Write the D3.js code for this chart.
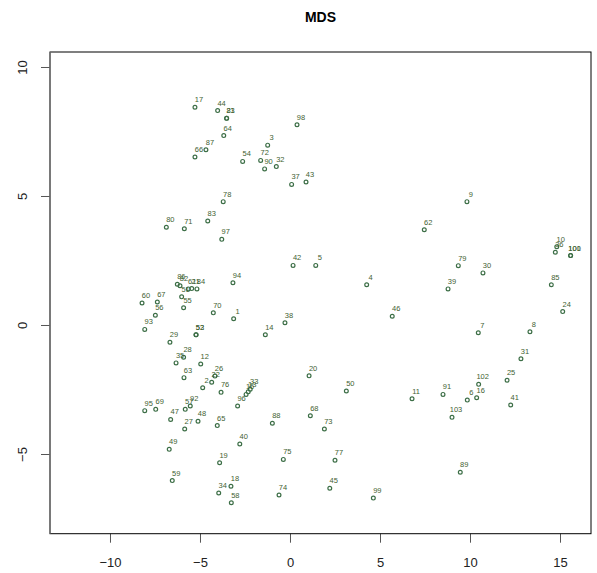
<!DOCTYPE html>
<html>
<head>
<meta charset="utf-8">
<script src="https://cdn.jsdelivr.net/npm/d3@7"></script>
<style>
  html, body { margin: 0; padding: 0; background: #fff; }
  svg { display: block; font-family: "Liberation Sans", Arial, sans-serif; }
</style>
</head>
<body>
<div id="chart"></div>
<script>
// MDS 坐标
const ids = [
  1, 2, 3, 4, 5, 6, 7, 8, 9, 10, 11, 12, 13, 14, 15, 16, 17, 18, 19, 20,
  21, 22, 23, 24, 25, 26, 27, 28, 29, 30, 31, 32, 33, 34, 35, 36, 37, 38, 39, 40,
  41, 42, 43, 44, 45, 46, 47, 48, 49, 50, 51, 52, 53, 54, 55, 56, 57, 58, 59, 60,
  61, 62, 63, 64, 65, 66, 67, 68, 69, 70, 71, 72, 73, 74, 75, 76, 77, 78, 79, 80,
  81, 82, 83, 84, 85, 86, 87, 88, 89, 90, 91, 92, 93, 94, 95, 96, 97, 98, 99, 100,
  101, 102, 103
];
const xs = [
  -3.13, -4.85, -1.24, 4.26, 1.43, 9.85, 10.46, 13.33, 9.83, 14.82, 6.78, -4.96, -2.32, -1.37, -2.44, 10.37, -5.28, -3.28, -3.91, 1.06,
  -5.46, -4.35, -3.52, 15.15, 12.06, -4.17, -5.85, -5.91, -6.67, 10.72, 12.83, -0.76, -2.21, -3.96, -6.33, 14.74, 0.09, -0.28, 8.78, -2.79,
  12.26, 0.17, 0.89, -4.02, 2.21, 5.68, -6.63, -5.11, -6.71, 3.13, -6.02, -5.22, -5.22, -2.63, -5.91, -7.48, -5.82, -3.26, -6.54, -8.22,
  -5.65, 7.46, -5.89, -3.68, -4.04, -5.28, -7.37, 1.13, -7.46, -4.26, -5.87, -1.63, 1.91, -0.61, -0.37, -3.83, 2.50, -3.71, 9.35, -6.87,
  -3.52, -6.11, -4.57, -5.17, 14.52, -6.26, -4.67, -0.98, 9.46, -1.41, 8.50, -5.54, -8.07, -3.17, -8.07, -2.91, -3.79, 0.39, 4.63, 15.59,
  15.59, 10.48, 9.00
];
const ys = [
  0.24, -2.43, 6.97, 1.56, 2.31, -2.91, -0.30, -0.26, 4.78, 3.03, -2.86, -1.51, -2.59, -0.38, -2.69, -2.82, 8.44, -6.25, -5.34, -1.97,
  1.41, -2.22, 8.01, 0.52, -2.14, -1.98, -4.03, -1.25, -0.67, 2.02, -1.31, 6.14, -2.49, -6.51, -1.47, 2.82, 5.45, 0.09, 1.40, -4.61,
  -3.10, 2.31, 5.54, 8.31, -6.33, 0.34, -3.66, -3.73, -4.82, -2.56, 1.09, -0.38, -0.38, 6.34, 0.67, 0.38, -3.27, -6.89, -6.03, 0.85,
  1.40, 3.69, -2.04, 7.34, -3.90, 6.51, 0.89, -3.52, -3.27, 0.47, 3.73, 6.38, -4.03, -6.59, -5.21, -2.61, -5.24, 4.78, 2.30, 3.79,
  8.01, 1.52, 4.03, 1.40, 1.56, 1.58, 6.79, -3.81, -5.71, 6.05, -2.69, -3.14, -0.17, 1.64, -3.32, -3.14, 3.32, 7.76, -6.71, 2.69,
  2.69, -2.30, -3.58
];
const xTicks = [-10, -5, 0, 5, 10, 15];
const yTicks = [-5, 0, 5, 10];

const W = 597, H = 573;
const m = { left: 50, right: 591, top: 52, bottom: 533.7 };
const pointColor = '#3c6e46';
const labelColor = '#3f6232';

const svg = d3.select('#chart').append('svg').attr('width', W).attr('height', H);

const x = d3.scaleLinear().domain([-13.333, 16.722]).range([m.left, m.right]);
const y = d3.scaleLinear().domain([-8.089, 10.581]).range([m.bottom, m.top]);

// 标题
svg.append('text').attr('x', (m.left + m.right) / 2).attr('y', 22)
  .attr('text-anchor', 'middle').attr('font-size', 14).attr('font-weight', 'bold')
  .attr('fill', '#000').text('MDS');

// x 轴
const xAxis = svg.append('g').attr('transform', `translate(0,${m.bottom})`)
  .call(d3.axisBottom(x).tickValues(xTicks).tickSize(9).tickPadding(15).tickFormat(d3.format('d')));
xAxis.select('.domain').remove();
xAxis.selectAll('line').attr('stroke', '#555');
xAxis.selectAll('text').attr('font-size', 13).attr('fill', '#222')
  .attr('font-family', '"Liberation Sans", Arial, sans-serif');

// y 轴（标签旋转）
const yAxis = svg.append('g').attr('transform', `translate(${m.left},0)`)
  .call(d3.axisLeft(y).tickValues(yTicks).tickSize(9).tickFormat(d3.format('d')));
yAxis.select('.domain').remove();
yAxis.selectAll('line').attr('stroke', '#555');
yAxis.selectAll('text').attr('font-size', 13).attr('fill', '#222')
  .attr('font-family', '"Liberation Sans", Arial, sans-serif')
  .attr('x', null).attr('dy', null)
  .attr('text-anchor', 'middle')
  .attr('transform', 'translate(-28,0) rotate(-90)')
  .attr('dominant-baseline', 'central');

// 边框
svg.append('rect').attr('x', m.left).attr('y', m.top)
  .attr('width', m.right - m.left).attr('height', m.bottom - m.top)
  .attr('fill', 'none').attr('stroke', '#000').attr('stroke-width', 1);
svg.append('line').attr('x1', m.left).attr('x2', m.left).attr('y1', m.top).attr('y2', m.bottom)
  .attr('stroke', '#777').attr('stroke-width', 1.5);

const pts = ids.map((id, i) => ({ id, x: xs[i], y: ys[i] }));

svg.selectAll('circle.pt').data(pts).enter().append('circle')
  .attr('class', 'pt')
  .attr('cx', (d) => x(d.x)).attr('cy', (d) => y(d.y)).attr('r', 1.9)
  .attr('fill', 'none').attr('stroke', pointColor).attr('stroke-width', 1.2);

svg.selectAll('text.lab').data(pts).enter().append('text')
  .attr('class', 'lab')
  .attr('x', (d) => x(d.x) + 4).attr('y', (d) => y(d.y) - 5)
  .attr('text-anchor', 'middle').attr('font-size', 7.5)
  .attr('fill', labelColor).text((d) => d.id);
</script>
</body>
</html>
